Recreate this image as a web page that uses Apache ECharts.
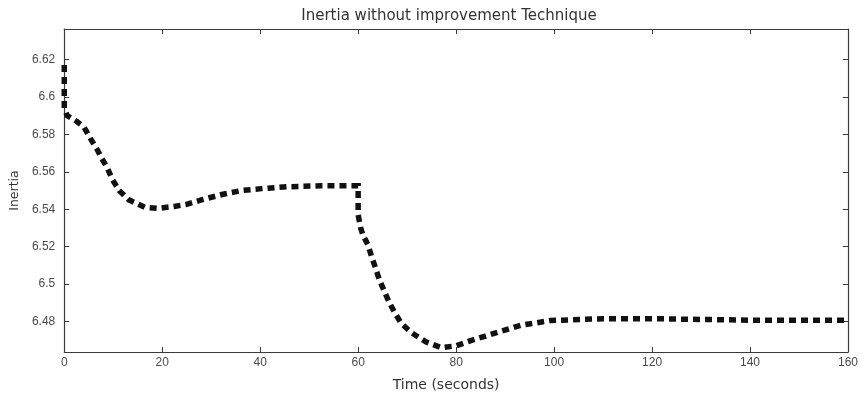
<!DOCTYPE html>
<html>
<head>
<meta charset="utf-8">
<script src="https://cdn.jsdelivr.net/npm/echarts@6/dist/echarts.min.js"></script>
<style>html,body{margin:0;padding:0;background:#fff}#c{width:864px;height:397px}</style>
</head>
<body>
<div id="c"></div>
<script>
var titleText = 'Inertia without improvement Technique';
var xName = 'Time (seconds)';
var yName = 'Inertia';
var yTicks = [6.48, 6.5, 6.52, 6.54, 6.56, 6.58, 6.6, 6.62];
var time = [0, 0, 0.6, 2.5, 4, 5.3, 6.7, 7.7, 8.8, 9.8, 11.2, 13.2, 16.5, 19.3, 22.4, 25, 28.3, 32.4, 36.2, 40.3, 45.4, 52.5, 60, 60, 60.5, 61, 62, 62.7, 63.5, 64.3, 65.2, 66.2, 67.4, 68.8, 70.9, 73.9, 77, 80, 83, 86, 89, 93.2, 99.3, 110, 120, 140, 160];
var inertia = [6.617, 6.594, 6.590, 6.587, 6.584, 6.578, 6.572, 6.567, 6.562, 6.556, 6.550, 6.545, 6.541, 6.5405, 6.5415, 6.5426, 6.5452, 6.548, 6.550, 6.551, 6.552, 6.5525, 6.5525, 6.537, 6.530, 6.526, 6.521, 6.515, 6.509, 6.5025, 6.497, 6.491, 6.485, 6.479, 6.474, 6.469, 6.466, 6.467, 6.4698, 6.4722, 6.4747, 6.478, 6.4805, 6.4815, 6.4815, 6.4807, 6.4807];

var pts = time.map(function (t, i) { return [t, inertia[i]]; });
var FONT = 'DejaVu Sans';
var TICKFONT = 'Liberation Sans';
var axisCol = '#3a3a3a';
var labCol = '#4a4a4a';

var chart = echarts.init(document.getElementById('c'), null, {renderer: 'canvas'});
var tickCommon = {show: true, inside: true, length: 5, lineStyle: {color: axisCol, width: 1}};
chart.setOption({
  animation: false,
  backgroundColor: '#fff',
  title: {
    text: titleText, left: 444, top: 4, textAlign: 'center',
    textStyle: {fontFamily: FONT, fontSize: 15, fontWeight: 'normal', color: '#333'}
  },
  grid: {left: 62, right: 16, top: 29, bottom: 39, containLabel: false},
  xAxis: [{
    type: 'value', min: 0, max: 160, interval: 20, position: 'bottom',
    name: xName, nameLocation: 'middle', nameGap: 26,
    nameTextStyle: {fontFamily: FONT, fontSize: 14, color: '#333', padding: [0, 20, 0, 0]},
    axisLine: {show: true, onZero: false, lineStyle: {color: axisCol, width: 1.2}},
    axisTick: tickCommon,
    axisLabel: {fontFamily: TICKFONT, fontSize: 12, color: labCol, margin: 5},
    splitLine: {show: false}
  }, {
    type: 'value', min: 0, max: 160, interval: 20, position: 'top',
    axisLine: {show: true, onZero: false, lineStyle: {color: axisCol, width: 1.2}},
    axisTick: tickCommon, axisLabel: {show: false}, splitLine: {show: false}
  }],
  yAxis: [{
    type: 'value', min: 6.4637, max: 6.6363, position: 'left',
    name: yName, nameLocation: 'middle', nameGap: 42, nameRotate: 90,
    nameTextStyle: {fontFamily: FONT, fontSize: 12.5, color: '#333'},
    axisLine: {show: true, onZero: false, lineStyle: {color: axisCol, width: 1.2}},
    axisTick: {show: true, inside: true, length: 5, lineStyle: {color: axisCol, width: 1}, customValues: yTicks},
    axisLabel: {fontFamily: TICKFONT, fontSize: 12, color: labCol, margin: 9, customValues: yTicks,
      formatter: function (v) { return String(+v.toFixed(2)); }},
    splitLine: {show: false}
  }, {
    type: 'value', min: 6.4637, max: 6.6363, position: 'right',
    axisLine: {show: true, onZero: false, lineStyle: {color: axisCol, width: 1.2}},
    axisTick: {show: true, inside: true, length: 5, lineStyle: {color: axisCol, width: 1}, customValues: yTicks},
    axisLabel: {show: false}, splitLine: {show: false}
  }],
  series: [{
    type: 'line', data: pts, xAxisIndex: 0, yAxisIndex: 0,
    showSymbol: false, symbol: 'none', smooth: false,
    lineStyle: {color: '#111', width: 5.5, type: [7, 5], cap: 'butt', join: 'miter'}
  }]
});
</script>
</body>
</html>
